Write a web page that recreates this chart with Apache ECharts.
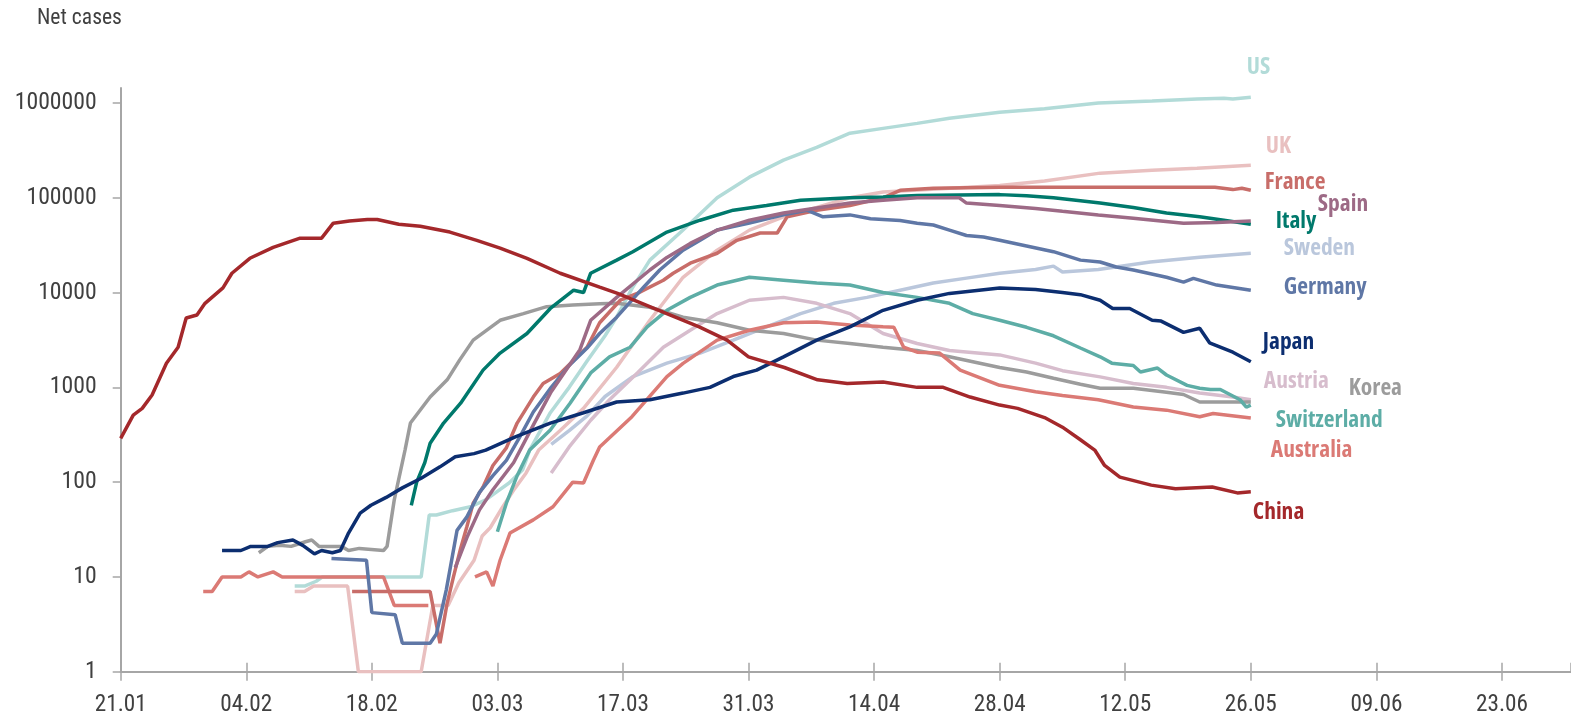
<!DOCTYPE html>
<html>
<head>
<meta charset="utf-8">
<script src="https://cdn.jsdelivr.net/npm/echarts@6/dist/echarts.min.js"></script>
<style>
  html, body { margin: 0; padding: 0; background: #fff; }
  #chart { width: 1571px; height: 724px; }
</style>
</head>
<body>
<div id="chart"></div>
<script>
// x = days since 21.01.2020, y = net (active) cases
const startDate = new Date(2020, 0, 21);
const xTickDays = [0, 14, 28, 42, 56, 70, 84, 98, 112, 126, 140, 154];
const yTickValues = [1, 10, 100, 1000, 10000, 100000, 1000000];

const countries = ['US', 'UK', 'Sweden', 'Austria', 'Korea', 'Switzerland', 'Australia',
  'France', 'Germany', 'Italy', 'Spain', 'Japan', 'China'];

const chinaData = [[0,290],[1.4,510],[2.4,600],[3.5,830],[5.1,1800],[6.4,2650],[7.3,5400],[8.5,5800],
  [9.4,7700],[11.4,11200],[12.4,16000],[14.4,23000],[17,30000],[20,37500],[22.4,37500],[23.7,54000],
  [25.5,57000],[27.5,59000],[28.6,59000],[31,52600],[33.4,50000],[36.7,43500],[39.7,35600],[42.3,29500],
  [45.3,23000],[49,16000],[53.4,11400],[55.4,9800],[60,6500],[64.5,4350],[67.6,3150],[70,2100],[74,1620],
  [77.7,1200],[81,1100],[85,1140],[88.8,1000],[91.7,1000],[94.7,790],[98,650],[100,600],[103,480],
  [105,380],[107,280],[108.6,218],[109.7,150],[111.4,113],[114.9,93],[117.6,85],[121.7,89],[124.5,77],[126,79]];

const japanData = [[11.3,19],[13.4,19],[14.5,21],[16.4,21],[17.5,23],[19.2,24.5],[20.3,21.5],[21.6,17.5],
  [22.4,19],[23.6,18],[24.5,19],[25.4,29],[26.7,47],[27.9,57],[29.6,69],[31.4,87],[33.5,110],[35.6,145],
  [37.3,185],[39.4,200],[40.7,218],[44,300],[47.9,420],[51.6,540],[55.3,700],[59,740],[62.7,870],
  [65.7,1000],[68.3,1300],[70.9,1520],[73.9,2100],[77.6,3150],[81.3,4350],[85,6500],[88.8,8300],
  [92.4,9800],[98,11200],[102,10800],[105,10000],[107,9500],[109.2,8300],[110.6,6800],[112.5,6800],
  [115,5100],[116,5000],[118.5,3800],[120.3,4200],[121.4,2950],[124,2350],[126,1860]];

const koreaData = [[15.4,18],[16.4,21],[17.7,21.6],[19,21],[20.6,23.5],[21.3,24.5],[22.1,21],[24.6,21],
  [25.4,19],[26.6,20],[29.3,19],[29.7,21],[30.5,65],[31.7,218],[32.3,420],[34.5,790],[36.4,1200],
  [37.8,1950],[39.3,3150],[42.3,5100],[44.9,6000],[47.5,7100],[50.4,7400],[53.4,7600],[55.3,7700],
  [59,7000],[62.7,5500],[66.5,4800],[70.1,4000],[73.9,3700],[77.6,3150],[81.3,2900],[85,2650],
  [88.8,2450],[92.4,2100],[98,1620],[101,1450],[104,1250],[107,1080],[109.2,980],[112.9,980],
  [116.6,890],[118.5,840],[120.3,700],[126,700]];

const usData = [[19.4,8],[20.5,8],[21.8,9],[22.5,10],[33.5,10],[34.4,45],[35.2,45],[37,50],[39,55],
  [40.7,65],[42,80],[43.3,98],[44.8,134],[45.6,218],[47.9,540],[50,1000],[52,1900],[54,3500],
  [55.3,5500],[57,11000],[59,22000],[62.7,45700],[66.5,100000],[70.1,165000],[73.9,250000],
  [77.6,340000],[81.3,480000],[85,540000],[88.8,610000],[92.4,690000],[98,800000],[103,870000],
  [109,1000000],[115,1050000],[120,1100000],[123,1120000],[124,1100000],[126,1150000]];

const ukData = [[19.4,7],[20.5,7],[21.5,8],[25.3,8],[26.5,1],[33.5,1],[34.8,5],[36.5,5],[37.7,8.7],
  [39.4,15],[40.3,27],[41.2,33],[42.5,53],[43.8,82],[45.2,125],[46.6,218],[49,350],[51.6,600],
  [55.3,1630],[59,5100],[62.7,14500],[66.5,28000],[70.1,45600],[73.9,63000],[77.6,79000],
  [81.3,100000],[85,115000],[90,122000],[98,135000],[103,150000],[109.2,182000],[115,195000],
  [120,205000],[126,220000]];

const franceData = [[25.8,7],[34.5,7],[35.6,2],[36.4,5.3],[37.1,10],[37.9,20],[38.6,34],[39.3,60],
  [40.4,89],[41.5,150],[43,230],[44.2,420],[46,790],[47.1,1100],[49,1400],[50.9,2100],[52,2650],
  [53.4,4800],[55.7,8300],[57.6,9800],[60.5,13500],[61.6,16000],[63.5,20400],[66.5,26000],
  [68.7,35600],[71.3,42500],[73.2,42500],[74.3,63000],[77.6,74000],[81.3,83000],[85,100000],
  [86.9,120000],[90.6,126000],[98,129000],[110,129000],[122,129000],[124,122000],[125,126000],[126,120000]];

const germanyData = [[23.5,15.6],[27.4,15],[28,4.2],[30.6,4],[31.4,2],[34.5,2],[35.2,2.5],[36.3,7.3],
  [37.5,31],[38.6,43],[40,78],[41.5,117],[43,170],[44.5,300],[46,550],[48,1000],[50,1700],[52,2600],
  [53.4,3700],[55.3,5500],[58.3,11400],[60.1,17300],[62.7,28000],[64.6,35700],[66.5,45700],
  [70.1,54000],[73.9,66000],[76.5,74000],[78.3,63000],[81.3,66000],[83.6,60000],[86.9,57700],
  [88.8,54000],[90.6,51600],[92.4,45600],[94.3,40000],[96.2,38500],[98,35600],[101,31000],[104,27000],
  [107,22000],[109.2,21000],[111,18600],[112.9,17300],[116.6,14500],[118.5,12900],[119.6,14100],
  [122.2,12000],[126,10600]];

const spainData = [[37.3,12.5],[38.6,26],[40,51],[41.5,83],[43.8,160],[46,400],[48,900],[50,1700],
  [51.2,2500],[52.4,5100],[55.3,8900],[59,17300],[60.9,23500],[63.5,33000],[66.5,45600],[70.1,58000],
  [73.9,69000],[77.6,78000],[81.3,88000],[85,94000],[88.8,100000],[92.4,100000],[93.5,100000],
  [94.3,88000],[98,83000],[102,77000],[105,72000],[109,66000],[112.9,61000],[118.5,54000],
  [122.2,55000],[126,57000]];

const italyData = [[32.4,57],[33,100],[33.9,160],[34.5,257],[36,420],[37.9,680],[40.4,1520],[42.3,2300],
  [45.3,3700],[47.9,6800],[50.5,10600],[51.6,10000],[52.4,16000],[55.3,22000],[57.1,27000],
  [60.9,43500],[64.6,58000],[68.3,74000],[72,83000],[75.8,94000],[81.3,100000],[85,102000],
  [88.8,106000],[98,108000],[101,105000],[104,100000],[107,93000],[109.2,88000],[112.9,79000],
  [116.6,69000],[120.3,63000],[123,58000],[126,52500]];

const swedenData = [[48,250],[50,350],[52,500],[54,800],[57.1,1300],[60.9,1800],[64.6,2300],[68.3,3150],
  [72,4350],[75.8,6000],[79.5,7700],[83.2,8900],[86.9,10600],[90.6,12600],[94.3,14200],[98,16000],
  [102,17500],[104,19000],[105,16500],[109,17500],[114.8,21000],[120.3,23600],[126,26000]];

const switzerlandData = [[42,30],[43,60],[44.2,117],[45.6,218],[47.9,355],[50.1,680],[52.4,1420],
  [54.5,2100],[56.8,2650],[58.7,4350],[60.9,6500],[63.5,8900],[66.5,12000],[70.1,14500],[73.9,13500],
  [77.6,12600],[81.3,12000],[85,10000],[88.8,8900],[92.4,7700],[95,6000],[98,5100],[101,4300],
  [104,3500],[107,2600],[109.2,2100],[110.5,1800],[112.9,1700],[113.7,1450],[115.6,1600],[116.6,1350],
  [118.9,1050],[120.3,980],[121.5,950],[122.6,950],[124.8,740],[125.5,620],[126,650]];

const austriaData = [[48,125],[50,235],[52.4,450],[54.5,740],[57.6,1420],[60.5,2650],[63.5,4000],
  [66.5,6000],[70.1,8300],[73.9,8900],[77.6,7700],[81.3,6000],[85,3700],[88.8,2900],[92.4,2450],
  [98,2200],[102,1800],[105,1500],[109.2,1290],[112.9,1100],[116.6,1000],[120.3,870],[124,790],[126,740]];

// gap (null) between the February cases and the March restart
const australiaData = [[9.2,7],[10.2,7],[11.3,10],[13.4,10],[14.3,11.3],[15.3,10],[17,11.3],[18,10],
  [29.3,10],[30.5,5],[34.3,5],[37,null],[39.5,10],[40.8,11.3],[41.5,8],[42.3,15],[43.4,29],[46,40],
  [48.2,55],[50.4,100],[51.6,98],[52.7,170],[53.4,235],[57,490],[60.9,1300],[62.7,1790],[66.5,3150],
  [70.1,4000],[73.9,4800],[77.6,4900],[81.3,4550],[85,4350],[86.2,4300],[87.3,2650],[88.8,2350],
  [91.3,2300],[93.6,1520],[98,1050],[102,900],[105,820],[109,740],[112.9,620],[116.6,575],
  [120.3,490],[121.8,530],[126,475]];

const seriesData = {
  US: usData, UK: ukData, Sweden: swedenData, Austria: austriaData, Korea: koreaData,
  Switzerland: switzerlandData, Australia: australiaData, France: franceData, Germany: germanyData,
  Italy: italyData, Spain: spainData, Japan: japanData, China: chinaData
};

// styling
const colors = {
  US: '#B2DBD8', UK: '#E9C0C0', Sweden: '#BAC7DC', Austria: '#D7BDCD', Korea: '#9C9C9C',
  Switzerland: '#5DADA6', Australia: '#DB7A75', France: '#C86D69', Germany: '#5F77A6',
  Italy: '#00796C', Spain: '#9D6A86', Japan: '#0C2E70', China: '#A4282B'
};
// end label offsets (px) from the last point of each line
const labelOffsets = {
  US: [-12, -30], UK: [7, -19], France: [6, -8], Spain: [59, -17], Italy: [17, -3],
  Sweden: [25, -5], Germany: [25, -3], Japan: [4, -19], Austria: [5, -18], Korea: [90, -14],
  Switzerland: [17, 15], Australia: [12, 32], China: [-6, 20]
};

const axisColor = '#A6A6A6';
const textColor = '#404040';

// the original uses a narrow grotesque: find the installed face that comes closest
const measureCtx = document.createElement('canvas').getContext('2d');
const families = ["'Liberation Sans Narrow'", "'DejaVu Sans Condensed'", "'Open Sans'", "Roboto",
  "'Noto Sans'", "'DejaVu Sans'", "'Liberation Sans'", "Inter", "Lato"];
const stretches = ['extra-condensed', 'condensed', 'semi-condensed', 'normal'];

function textWidth(stretch, weight, size, family, text) {
  measureCtx.font = '10px serif';
  measureCtx.font = stretch + ' ' + weight + ' ' + size + 'px ' + family;
  if (measureCtx.font === '10px serif') return null;
  return measureCtx.measureText(text).width;
}

function pickFace(text, target, size, weight) {
  let best = null;
  families.forEach(f => stretches.forEach(s => {
    const w = textWidth(s, weight, size, f, text);
    if (!w) return;
    const err = Math.abs(Math.log(target / w));
    if (!best || err < best.err - 1e-3) best = { family: f, stretch: s, err: err };
  }));
  return best;
}

function fitSize(face, weight, text, target, size) {
  const w = textWidth(face.stretch, weight, size, face.family, text);
  const s = size * target / w;
  return Math.max(size * 0.72, Math.min(size * 1.1, s));
}

const regFace = pickFace('1000000', 82, 25, 'normal');
const boldFace = pickFace('Switzerland', 107, 25, 'bold');
const yLabelSize = fitSize(regFace, 'normal', '1000000', 82, 25);
const xLabelSize = fitSize(regFace, 'normal', '26.05', 52, 25);
const titleSize = fitSize(regFace, 'normal', 'Net cases', 85, 24);
const endLabelSize = fitSize(boldFace, 'bold', 'Switzerland', 107, 25);

function dayLabel(d) {
  const dt = new Date(startDate.getTime() + Math.round(d) * 86400000);
  const dd = String(dt.getDate()).padStart(2, '0');
  const mm = String(dt.getMonth() + 1).padStart(2, '0');
  return dd + '.' + mm;
}

const chart = echarts.init(document.getElementById('chart'));

const series = countries.map(name => ({
  name: name,
  type: 'line',
  data: seriesData[name],
  showSymbol: false,
  connectNulls: false,
  lineStyle: { color: colors[name], width: 3.5 },
  itemStyle: { color: colors[name] },
  emphasis: { disabled: true },
  endLabel: {
    show: true,
    formatter: name,
    distance: 8,
    offset: labelOffsets[name],
    color: colors[name],
    fontFamily: boldFace.family,
    fontStyle: boldFace.stretch,
    fontSize: endLabelSize,
    fontWeight: 'bold'
  }
}));

const baseX = {
  type: 'value',
  position: 'bottom',
  min: 0,
  max: 161.7,
  interval: 14,
  splitLine: { show: false }
};

chart.setOption({
  animation: false,
  title: {
    text: 'Net cases',
    left: 37,
    top: 19 - titleSize / 2 - 1,
    padding: 0,
    textStyle: {
      fontFamily: regFace.family, fontStyle: regFace.stretch, fontSize: titleSize,
      fontWeight: 'normal', color: textColor
    }
  },
  grid: { left: 120.7, right: 0, top: 88, bottom: 52.3 },
  xAxis: [
    Object.assign({}, baseX, {
      axisLine: { lineStyle: { color: axisColor, width: 2 } },
      axisTick: { length: 9, lineStyle: { color: axisColor, width: 1.5 } },
      axisLabel: {
        formatter: v => dayLabel(v),
        margin: 22,
        showMaxLabel: false,
        color: textColor,
        fontFamily: regFace.family,
        fontStyle: regFace.stretch,
        fontSize: xLabelSize
      }
    }),
    Object.assign({}, baseX, {
      axisLine: { show: false },
      axisTick: { inside: true, length: 9, lineStyle: { color: axisColor, width: 1.5 } },
      axisLabel: { show: false }
    })
  ],
  yAxis: {
    type: 'log',
    logBase: 10,
    min: 1,
    max: 1.44e6,
    splitLine: { show: false },
    axisLine: { show: true, lineStyle: { color: axisColor, width: 2 } },
    axisTick: { show: true, length: 8, customValues: yTickValues, lineStyle: { color: axisColor, width: 1.5 } },
    axisLabel: {
      customValues: yTickValues,
      margin: 24,
      color: textColor,
      fontFamily: regFace.family,
      fontStyle: regFace.stretch,
      fontSize: yLabelSize,
      formatter: v => {
        const l = Math.log10(v);
        return Math.abs(l - Math.round(l)) < 1e-6 ? String(Math.round(v)) : '';
      }
    }
  },
  series: series
});
</script>
</body>
</html>
